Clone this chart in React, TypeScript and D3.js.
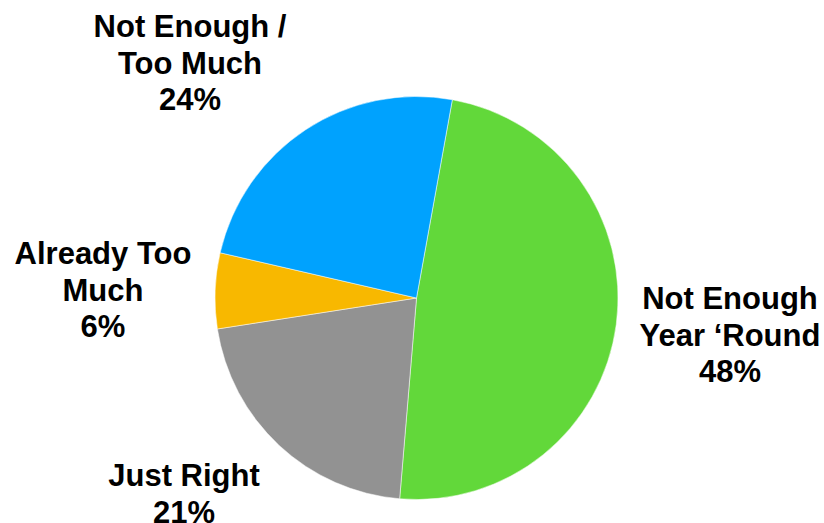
import React from "react";
import * as d3 from "d3";

const categories = ["Not Enough Year ‘Round", "Just Right", "Already Too Much", "Not Enough / Too Much"];
const values = [48, 21, 6, 24];
const colors = ["#62d83a", "#929292", "#f8b800", "#00a2fe"];
const labelLines = [
  ["Not Enough", "Year ‘Round", "48%"],
  ["Just Right", "21%"],
  ["Already Too", "Much", "6%"],
  ["Not Enough /", "Too Much", "24%"],
];
const labelPos = [
  [730, 309],
  [184, 486],
  [103, 264],
  [190, 37],
];

export default function App() {
  const W = 824, H = 523;
  const cx = 416.5, cy = 298, r = 201.5;
  const startA = (10.25 * Math.PI) / 180;
  const pie = d3.pie<number>().sort(null).startAngle(startA).endAngle(startA + 2 * Math.PI);
  const arcs = pie(values);
  const arc = d3.arc<d3.PieArcDatum<number>>().innerRadius(0).outerRadius(r);
  return (
    <svg width={W} height={H} style={{ position: "absolute", left: 0, top: 0 }}>
      <rect width={W} height={H} fill="#fff" />
      <g transform={`translate(${cx},${cy})`}>
        {arcs.map((a, i) => (
          <path key={i} d={arc(a) || ""} fill={colors[i]} stroke="#fff" strokeWidth={0.5} />
        ))}
      </g>
      {labelLines.map((lines, i) => (
        <text key={i} textAnchor="middle" fontFamily="Liberation Sans, Arial, sans-serif" fontWeight="bold" fontSize={31} fill="#000">
          {lines.map((l, j) => (
            <tspan key={j} x={labelPos[i][0]} y={labelPos[i][1] + j * 36.5}>{l}</tspan>
          ))}
        </text>
      ))}
    </svg>
  );
}
